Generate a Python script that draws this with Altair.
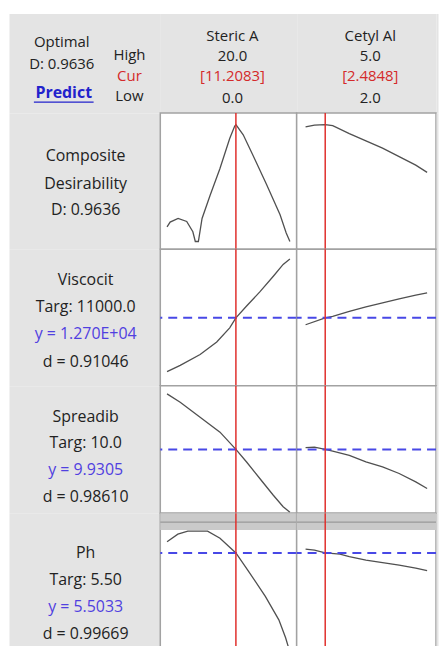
import altair as alt
import pandas as pd

# ---------------- data ----------------
factor_names = ["Steric A", "Cetyl Al"]
factor_high = ["20.0", "5.0"]
factor_cur = ["[11.2083]", "[2.4848]"]
factor_low = ["0.0", "2.0"]
factor_cur_values = [11.2083, 2.4848]
factor_domains = [[-1.1, 21.1], [1.78, 5.22]]

optimal_lines = ["Optimal", "D: 0.9636", "Predict"]
level_lines = ["High", "Cur", "Low"]

row_labels = [
    ["Composite", "Desirability", "D: 0.9636"],
    ["Viscocit", "Targ: 11000.0", "y = 1.270E+04", "d = 0.91046"],
    ["Spreadib", "Targ: 10.0", "y = 9.9305", "d = 0.98610"],
    ["Ph", "Targ: 5.50", "y = 5.5033", "d = 0.99669"],
]
response_current = [None, 12700, 9.9305, 5.5033]
row_domains = [[-0.065, 1.06], [4020, 21460], [6.73, 13.13], [3.3633, 6.3033]]

comp_steric_x = [0, 0.5, 1.8, 3.2, 4.2, 4.6, 5.1, 5.7, 7.0, 8.6, 10.2, 11.0, 11.2083, 12.4, 14.0, 16.2, 18.4, 19.4, 20.0]
comp_steric_y = [0.12, 0.16, 0.19, 0.165, 0.08, 0.0, 0.0, 0.19, 0.38, 0.60, 0.85, 0.95, 0.9636, 0.88, 0.71, 0.47, 0.22, 0.07, 0.0]
comp_cetyl_x = [2.0, 2.22, 2.4848, 2.67, 3.08, 3.49, 3.90, 4.31, 4.72, 5.0]
comp_cetyl_y = [0.945, 0.96, 0.9636, 0.955, 0.89, 0.83, 0.77, 0.70, 0.63, 0.57]

visc_steric_x = [0, 2.14, 5.38, 8.09, 10.2, 11.2083, 12.95, 15.1, 17.3, 18.9, 20.0]
visc_steric_y = [5820, 6620, 8020, 9620, 11420, 12700, 14220, 16020, 18020, 19540, 20220]
visc_cetyl_x = [2.0, 2.4848, 2.67, 3.08, 3.49, 3.90, 4.31, 4.72, 5.0]
visc_cetyl_y = [11820, 12700, 12900, 13540, 14100, 14620, 15140, 15620, 15900]

spread_steric_x = [0, 2.14, 5.38, 8.62, 11.2083, 12.95, 15.1, 17.3, 18.9, 20.0]
spread_steric_y = [12.72, 12.30, 11.55, 10.80, 9.9305, 9.30, 8.47, 7.63, 7.05, 6.78]
spread_cetyl_x = [2.0, 2.22, 2.4848, 2.67, 3.08, 3.49, 3.90, 4.31, 4.72, 5.0]
spread_cetyl_y = [10.02, 10.05, 9.9305, 9.85, 9.63, 9.30, 9.05, 8.72, 8.30, 7.97]

ph_steric_x = [0, 1.76, 3.38, 6.6, 8.62, 11.2083, 13.3, 16.0, 18.2, 19.3, 20.0]
ph_steric_y = [5.73, 5.88, 5.94, 5.94, 5.80, 5.5033, 5.13, 4.63, 4.16, 3.80, 3.51]
ph_cetyl_x = [2.0, 2.22, 2.4848, 2.85, 3.08, 3.49, 3.90, 4.31, 4.72, 5.0]
ph_cetyl_y = [5.58, 5.56, 5.5033, 5.48, 5.43, 5.36, 5.31, 5.26, 5.20, 5.15]

curves = [
    [(comp_steric_x, comp_steric_y), (comp_cetyl_x, comp_cetyl_y)],
    [(visc_steric_x, visc_steric_y), (visc_cetyl_x, visc_cetyl_y)],
    [(spread_steric_x, spread_steric_y), (spread_cetyl_x, spread_cetyl_y)],
    [(ph_steric_x, ph_steric_y), (ph_cetyl_x, ph_cetyl_y)],
]

# ---------------- style ----------------
FONT = "Open Sans"
GRAY = "#e4e4e4"
BORDER = "#a2a2a2"
STRIP = "#cacaca"
CURVE = "#505050"
RED = "#e0302c"
BLUE = "#4848e6"
TEXT = "#222222"
TXT_RED = "#d42a2a"
TXT_BLUE = "#5040e0"
FS = 16
HFS = 15

LABEL_W = 152
COL_W = [137, 140]
RIGHT_W = 2
HEADER_H = 100
ROW_H = [137, 137, 128, 147]


def text_layer(t, x, y, color=TEXT, bold=False, size=FS):
    return alt.Chart(pd.DataFrame({"t": [t]})).mark_text(
        font=FONT, fontSize=size, color=color, align="center", baseline="middle",
        fontWeight="bold" if bold else "normal",
    ).encode(text="t:N", x=alt.value(x), y=alt.value(y))


def text_panel(layers, w, h):
    return alt.layer(*layers).properties(
        width=w, height=h, view=alt.ViewBackground(fill=GRAY, stroke="transparent")
    )


def filler(h):
    blank = alt.Chart(pd.DataFrame({"t": [0]})).mark_rect(opacity=0).encode(
        x=alt.value(0), x2=alt.value(RIGHT_W), y=alt.value(0), y2=alt.value(h))
    return text_panel([blank], RIGHT_W, h)


def plot_panel(xs, ys, xdom, ydom, xcur, ycur, w, h, strip=False):
    df = pd.DataFrame({"x": xs, "y": ys})
    xsc = alt.Scale(domain=xdom, nice=False, zero=False)
    ysc = alt.Scale(domain=ydom, nice=False, zero=False)
    layers = []
    if strip:
        layers.append(alt.Chart(df.head(1)).mark_rect(color=STRIP).encode(
            x=alt.value(0), x2=alt.value(w), y=alt.value(0), y2=alt.value(17)))
        layers.append(alt.Chart(df.head(1)).mark_rule(color="#999999", strokeWidth=1.2).encode(
            x=alt.value(0), x2=alt.value(w), y=alt.value(9)))
    layers.append(alt.Chart(df).mark_line(color=CURVE, strokeWidth=1.3).encode(
        x=alt.X("x:Q", scale=xsc, axis=None), y=alt.Y("y:Q", scale=ysc, axis=None)))
    if ycur is not None:
        layers.append(alt.Chart(pd.DataFrame({"y": [ycur]})).mark_rule(
            color=BLUE, strokeWidth=2, strokeDash=[9, 6]).encode(
            y=alt.Y("y:Q", scale=ysc, axis=None)))
    layers.append(alt.Chart(pd.DataFrame({"x": [xcur]})).mark_rule(
        color=RED, strokeWidth=1.5).encode(x=alt.X("x:Q", scale=xsc, axis=None)))
    return alt.layer(*layers).properties(
        width=w, height=h,
        view=alt.ViewBackground(fill="white", stroke=BORDER, strokeWidth=1.5),
    )


panels = []

# ---------------- header row ----------------
hdr_left = [
    text_layer(optimal_lines[0], 53, 29, size=HFS),
    text_layer(optimal_lines[1], 53, 51, size=HFS),
    text_layer(optimal_lines[2], 55, 80, color="#2222cc", bold=True),
    alt.Chart(pd.DataFrame({"t": [0]})).mark_rule(color="#2222cc", strokeWidth=1.3).encode(
        x=alt.value(25), x2=alt.value(85), y=alt.value(89)),
    text_layer(level_lines[0], 121, 42, size=HFS),
    text_layer(level_lines[1], 121, 63, color=TXT_RED, size=HFS),
    text_layer(level_lines[2], 121, 83, size=HFS),
]
panels.append(text_panel(hdr_left, LABEL_W, HEADER_H))
for i in range(2):
    cx = COL_W[i] / 2 + 4
    panels.append(text_panel([
        text_layer(factor_names[i], cx, 23, size=HFS),
        text_layer(factor_high[i], cx, 43, size=HFS),
        text_layer(factor_cur[i], cx, 63, color=TXT_RED, size=HFS),
        text_layer(factor_low[i], cx, 85, size=HFS),
    ], COL_W[i], HEADER_H))
panels.append(filler(HEADER_H))

# ---------------- response rows ----------------
label_y = [[43, 71, 97], [31, 58, 85, 113], [31, 58, 85, 112], [40, 67, 94, 121]]
for r in range(4):
    lbls = []
    for j, t in enumerate(row_labels[r]):
        col = TXT_BLUE if t.startswith("y =") else TEXT
        lbls.append(text_layer(t, 77, label_y[r][j], color=col))
    panels.append(text_panel(lbls, LABEL_W, ROW_H[r]))
    for c in range(2):
        xs, ys = curves[r][c]
        panels.append(plot_panel(xs, ys, factor_domains[c], row_domains[r],
                                 factor_cur_values[c], response_current[r],
                                 COL_W[c], ROW_H[r], strip=(r == 3)))
    panels.append(filler(ROW_H[r]))

chart = alt.concat(*panels, columns=4, spacing=0, bounds="flush", align="each").properties(
    padding={"left": 0, "top": 3, "right": 0, "bottom": -17},
    background="white",
).configure_view(stroke="transparent").configure_concat(spacing=0)

chart.save("out.html", embed_options={"renderer": "svg", "actions": False})
